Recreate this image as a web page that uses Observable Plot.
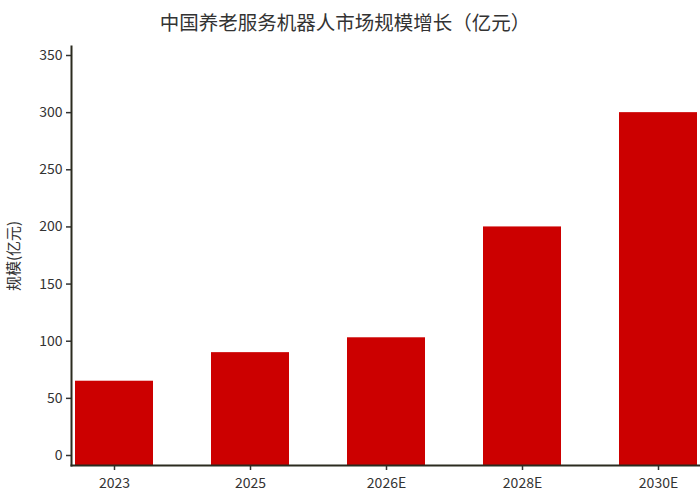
<!DOCTYPE html>
<html><head><meta charset="utf-8">
<script src="https://cdn.jsdelivr.net/npm/d3@7"></script>
<script src="https://cdn.jsdelivr.net/npm/@observablehq/plot@0.6"></script>
<style>
body{margin:0;background:#fff;font-family:"Noto Sans CJK SC","Noto Sans",sans-serif;}
#title{height:40px;line-height:44px;text-align:center;font-size:19.5px;color:#333;white-space:nowrap;padding-right:10px;}
#chart svg g[aria-label="y-axis label"] text{font-size:15px;}
</style></head><body>
<div id="title">中国养老服务机器人市场规模增长（亿元）</div>
<div id="chart"></div>
<script>
const categories = ["2023", "2025", "2026E", "2028E", "2030E"];
const values = [65, 90, 103, 200, 300];
const yTicks = [0, 50, 100, 150, 200, 250, 300, 350];
const yLabel = "规模(亿元)";
const data = categories.map((c, i) => ({year: c, value: values[i]}));

const chart = Plot.plot({
  width: 700, height: 460,
  marginLeft: 71, marginRight: 0, marginTop: 6, marginBottom: 35,
  style: {fontFamily: '"Noto Sans CJK SC","Noto Sans",sans-serif', fontSize: "14px", color: "#333", background: "#fff", overflow: "visible"},
  x: {domain: categories, paddingInner: 0.43, paddingOuter: 0.02, label: null},
  y: {domain: [0, 350], insetTop: 9, insetBottom: 10, label: yLabel},
  marks: [
    Plot.barY(data, {x: "year", y: "value", fill: "#cc0000", insetBottom: -10}),
    Plot.axisY({ticks: yTicks, tickSize: 5, tickPadding: 4, stroke: "#333", strokeWidth: 1.5, label: yLabel, labelAnchor: "center", labelOffset: 63, labelArrow: "none"}),
    Plot.axisX({tickSize: 5, tickPadding: 8, stroke: "#333", strokeWidth: 1.5, label: null}),
    Plot.frame({anchor: "left", stroke: "#2b2b1f", strokeWidth: 2}),
    Plot.frame({anchor: "bottom", stroke: "#2b2b1f", strokeWidth: 2})
  ]
});
document.getElementById("chart").appendChild(chart);
</script>
</body></html>
